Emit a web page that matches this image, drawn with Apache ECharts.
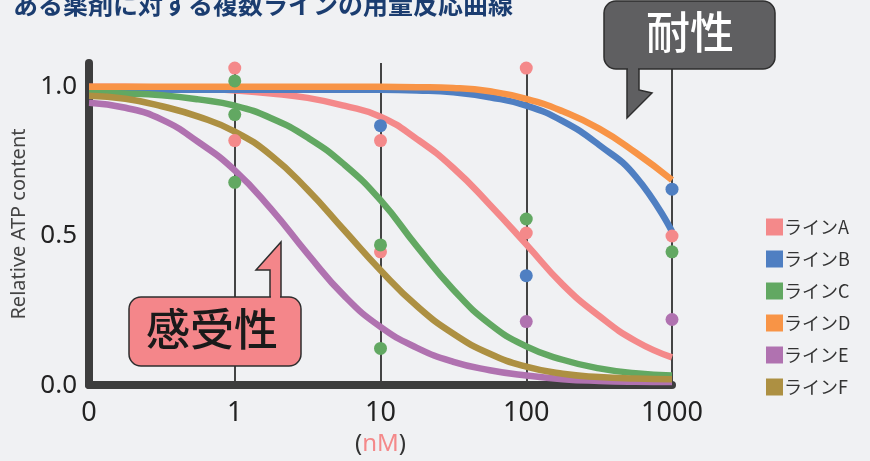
<!DOCTYPE html>
<html>
<head>
<meta charset="utf-8">
<script src="https://cdn.jsdelivr.net/npm/echarts@6/dist/echarts.min.js"></script>
<style>
html,body{margin:0;padding:0;background:#f0f1f3;}
#chart{width:870px;height:461px;}
</style>
</head>
<body>
<div id="chart"></div>
<script>
// ---- data ----
const titleText = 'ある薬剤に対する複数ラインの用量反応曲線';
const doseTickLabels = ['0', '1', '10', '100', '1000'];   // tick labels at axis positions 0..4
const yTickLabels = ['0.0', '0.5', '1.0'];
const lineNames = ['ラインA', 'ラインB', 'ラインC', 'ラインD', 'ラインE', 'ラインF'];
const lineColors = ['#f4898a', '#4f7fc2', '#62a862', '#f89446', '#b072b0', '#ad9042'];

// curve sample positions (axis units, tick index) and values
const curveX = [0, 0.25, 0.5, 0.75, 1, 1.25, 1.5, 1.75, 2, 2.25, 2.5, 2.75, 3, 3.25, 3.5, 3.75, 4];
const curveA = [1.0, 1.0, 0.998, 0.994, 0.988, 0.978, 0.963, 0.937, 0.9, 0.825, 0.728, 0.605, 0.472, 0.337, 0.232, 0.148, 0.093];
const curveB = [0.99, 0.99, 0.99, 0.99, 0.99, 0.99, 0.99, 0.99, 0.99, 0.988, 0.982, 0.965, 0.937, 0.885, 0.805, 0.7, 0.515];
const curveC = [0.98, 0.978, 0.972, 0.958, 0.937, 0.895, 0.83, 0.74, 0.62, 0.465, 0.32, 0.205, 0.13, 0.085, 0.056, 0.04, 0.032];
const curveD = [1.0, 1.0, 1.0, 1.0, 1.0, 1.0, 1.0, 1.0, 1.0, 0.999, 0.996, 0.985, 0.96, 0.918, 0.86, 0.78, 0.688];
const curveE = [0.947, 0.93, 0.89, 0.815, 0.72, 0.59, 0.44, 0.3, 0.195, 0.125, 0.078, 0.05, 0.032, 0.02, 0.014, 0.011, 0.01];
const curveF = [0.97, 0.96, 0.935, 0.9, 0.85, 0.77, 0.655, 0.52, 0.385, 0.265, 0.172, 0.105, 0.062, 0.038, 0.027, 0.022, 0.02];

// measured points: positions (axis units) and values
const dotsAX = [1, 1, 2, 2, 3, 3, 4];
const dotsAY = [1.063, 0.82, 0.82, 0.447, 1.063, 0.51, 0.50];
const dotsBX = [2, 3, 4];
const dotsBY = [0.87, 0.367, 0.657];
const dotsCX = [1, 1, 1, 2, 2, 3, 4];
const dotsCY = [1.02, 0.907, 0.68, 0.47, 0.123, 0.557, 0.447];
const dotsEX = [3, 4];
const dotsEY = [0.213, 0.22];

const curves = [curveA, curveB, curveC, curveD, curveE, curveF];
const dots = [[dotsAX, dotsAY], [dotsBX, dotsBY], [dotsCX, dotsCY], null, [dotsEX, dotsEY], null];

const FONT = '"Noto Sans", "Noto Sans CJK JP", sans-serif';
const CJK = '"Noto Sans CJK JP", "Noto Sans", sans-serif';

const series = [];
curves.forEach((c, i) => {
  series.push({
    name: lineNames[i], type: 'line', smooth: 0.5,
    showSymbol: false, symbol: 'none',
    data: curveX.map((x, k) => [x, c[k]]),
    lineStyle: { width: 6.5, color: lineColors[i] },
    itemStyle: { color: lineColors[i] },
    z: 2
  });
});
dots.forEach((d, i) => {
  if (!d) return;
  series.push({
    name: lineNames[i], type: 'scatter', symbolSize: 13,
    data: d[0].map((x, k) => [x, d[1][k]]),
    itemStyle: { color: lineColors[i], opacity: 1 },
    z: 3
  });
});

const chart = echarts.init(document.getElementById('chart'));
chart.setOption({
  backgroundColor: '#f0f1f3',
  animation: false,
  title: {
    text: titleText, left: 8, top: -13,
    textStyle: { fontFamily: CJK, fontSize: 25, fontWeight: 'bold', color: '#1b3d70' }
  },
  legend: {
    orient: 'vertical', left: 761, top: 213,
    itemWidth: 17, itemHeight: 17, itemGap: 14,
    icon: 'rect',
    data: lineNames,
    textStyle: { fontFamily: CJK, fontSize: 18, color: '#333', padding: [0, 0, 0, -4] }
  },
  grid: { left: 89, right: 198, top: 63, bottom: 75, containLabel: false },
  xAxis: {
    type: 'value', min: 0, max: 4, interval: 1,
    name: '{p|(}{u|nM}{p|)}', nameLocation: 'middle', nameGap: 46,
    nameTextStyle: {
      rich: {
        p: { fontFamily: FONT, fontSize: 24, color: '#333' },
        u: { fontFamily: FONT, fontSize: 24, color: '#f4898a' }
      }
    },
    axisLine: { show: true, lineStyle: { color: '#3d3d3d', width: 8, cap: 'round' } },
    axisTick: { show: false },
    axisLabel: {
      margin: 15, fontFamily: FONT, fontSize: 27, color: '#222',
      formatter: v => doseTickLabels[Math.round(v)]
    },
    splitLine: { show: true, lineStyle: { color: '#444', width: 2 } }
  },
  yAxis: {
    type: 'value', min: 0, max: 1.08, interval: 0.5,
    name: 'Relative ATP content', nameLocation: 'middle', nameGap: 58,
    nameTextStyle: { fontFamily: FONT, fontSize: 20, color: '#444' },
    axisLine: { show: true, lineStyle: { color: '#3d3d3d', width: 8, cap: 'round' } },
    axisTick: { show: false },
    axisLabel: {
      margin: 12, fontFamily: FONT, fontSize: 26, color: '#222', showMaxLabel: false,
      formatter: v => { const k = Math.round(v / 0.5); return Math.abs(v - k * 0.5) < 1e-6 && yTickLabels[k] ? yTickLabels[k] : ''; }
    },
    splitLine: { show: false }
  },
  graphic: [
    // 耐性 annotation
    { type: 'polygon', z: 100, shape: { points: [[627, 66], [627, 118], [652, 93], [639, 90], [639, 66]] },
      style: { fill: '#5f5f61', stroke: '#2e2e2e', lineWidth: 1.5 } },
    { type: 'rect', z: 101, shape: { x: 604, y: 1, width: 171, height: 68, r: 12 },
      style: { fill: '#5f5f61', stroke: '#2e2e2e', lineWidth: 1.5 } },
    { type: 'rect', z: 102, shape: { x: 628, y: 66, width: 10, height: 5 }, style: { fill: '#5f5f61' } },
    { type: 'text', z: 103, left: 646, top: 10,
      style: { text: '耐性', fill: '#ffffff', fontFamily: CJK, fontSize: 44, fontWeight: 500 } },
    // 感受性 annotation
    { type: 'polygon', z: 100, shape: { points: [[270, 300], [270, 270], [256, 270], [281, 242], [281, 300]] },
      style: { fill: '#f4868a', stroke: '#2e2e2e', lineWidth: 1.5 } },
    { type: 'rect', z: 101, shape: { x: 129, y: 297, width: 172, height: 69, r: 12 },
      style: { fill: '#f4868a', stroke: '#2e2e2e', lineWidth: 1.5 } },
    { type: 'rect', z: 102, shape: { x: 271, y: 294, width: 9, height: 5 }, style: { fill: '#f4868a' } },
    { type: 'text', z: 103, left: 146, top: 307,
      style: { text: '感受性', fill: '#1a1a1a', fontFamily: CJK, fontSize: 44, fontWeight: 500 } }
  ],
  series: series
});
</script>
</body>
</html>
